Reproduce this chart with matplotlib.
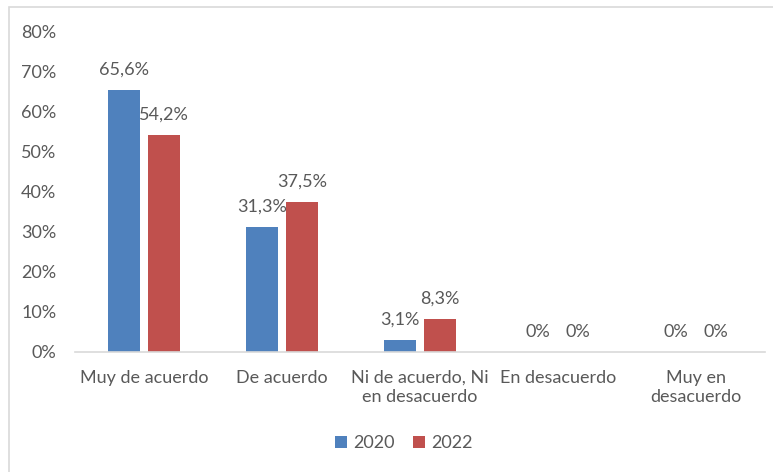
import numpy as np
import matplotlib.pyplot as plt
from matplotlib.patches import Rectangle

categories = ["Muy de acuerdo", "De acuerdo", "Ni de acuerdo, Ni\nen desacuerdo",
              "En desacuerdo", "Muy en\ndesacuerdo"]
years = ["2020", "2022"]
vals_2020 = [65.6, 31.3, 3.1, 0, 0]
vals_2022 = [54.2, 37.5, 8.3, 0, 0]
labels_2020 = ["65,6%", "31,3%", "3,1%", "0%", "0%"]
labels_2022 = ["54,2%", "37,5%", "8,3%", "0%", "0%"]

plt.rcParams['font.family'] = ['Lato', 'DejaVu Sans']
txt = '#595959'
fs = 13

fig = plt.figure(figsize=(7.73, 4.72), dpi=100)
W, H = 773, 472
ax = fig.add_axes([75 / W, 1 - 352 / H, 690 / W, 320 / H])

# chart border (only top and left edges show in the picture)
fig.patches.append(Rectangle((9 / W, -0.1), 1.2, 1 - 7 / H + 0.1,
                             transform=fig.transFigure, fill=False,
                             edgecolor='#d9d9d9', linewidth=1.2))

x = np.arange(len(categories))
w = 0.225
off = 0.145
b1 = ax.bar(x - off, vals_2020, w, color='#4f81bd', label=years[0])
b2 = ax.bar(x + off, vals_2022, w, color='#c0504d', label=years[1])

for bars, labs in [(b1, labels_2020), (b2, labels_2022)]:
    for b, lab in zip(bars, labs):
        ax.annotate(lab, (b.get_x() + b.get_width() / 2, b.get_height()),
                    xytext=(0, 14.5), textcoords='offset points',
                    ha='center', va='center', fontsize=fs, color=txt)

ax.set_xlim(-0.5, len(categories) - 0.5)
ax.set_ylim(0, 80)
ax.set_yticks(range(0, 81, 10))
ax.set_yticklabels([f"{v}%" for v in range(0, 81, 10)])
ax.set_xticks(x)
ax.set_xticklabels(categories)
ax.tick_params(axis='both', length=0, labelsize=fs, colors=txt)
ax.tick_params(axis='y', pad=13.5)
ax.tick_params(axis='x', pad=13)
for s in ['top', 'right', 'left']:
    ax.spines[s].set_visible(False)
ax.spines['bottom'].set_color('#d9d9d9')
ax.spines['bottom'].set_linewidth(1.2)

fig.legend(handles=[b1, b2], loc='center', bbox_to_anchor=(404 / W, 1 - 443 / H),
           ncol=2, frameon=False, fontsize=fs, labelcolor=txt,
           handlelength=0.65, handleheight=0.65, handletextpad=0.35, columnspacing=1.0)

fig.savefig('out.png', dpi=100, facecolor='white')
